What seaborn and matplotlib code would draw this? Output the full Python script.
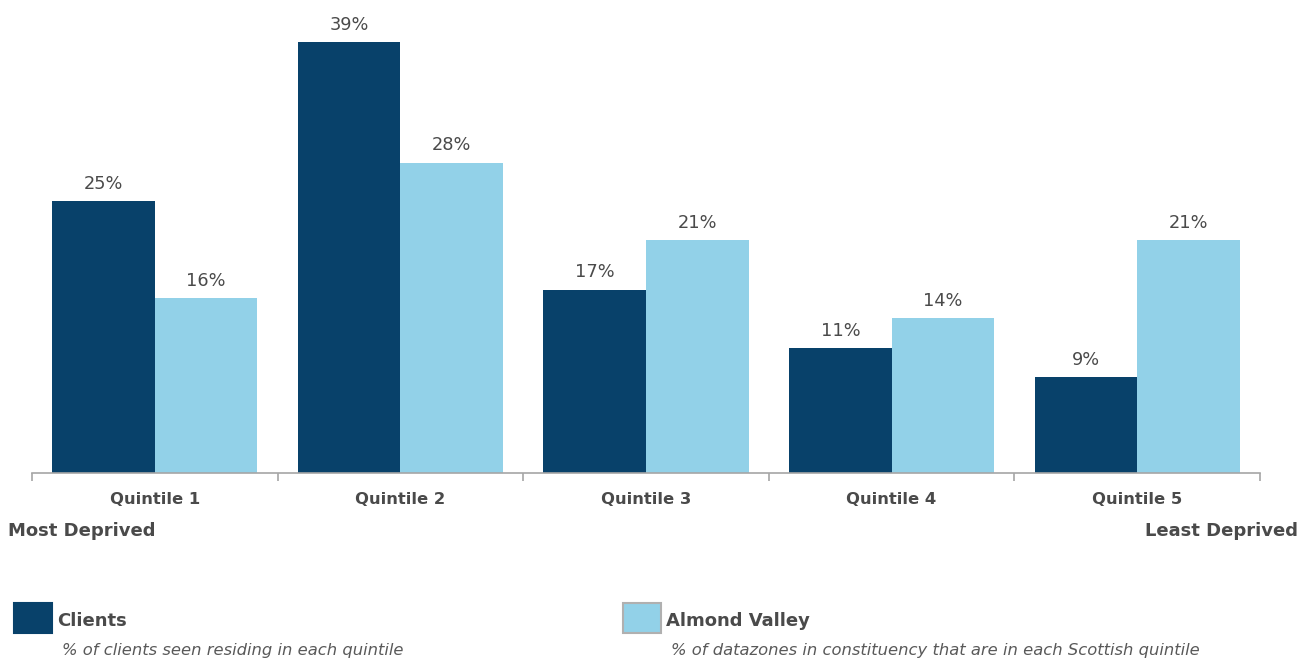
import matplotlib
matplotlib.use("Agg")
import matplotlib.pyplot as plt
import seaborn as sns
import pandas as pd
from matplotlib.patches import Rectangle

categories = ["Quintile 1", "Quintile 2", "Quintile 3", "Quintile 4", "Quintile 5"]
clients = [24.6, 39.0, 16.6, 11.3, 8.7]
almond_valley = [15.8, 28.1, 21.1, 14.0, 21.1]
series_names = ["Clients", "Almond Valley"]
series_notes = ["% of clients seen residing in each quintile",
                "% of datazones in constituency that are in each Scottish quintile"]

DARK = "#08416A"
LIGHT = "#92D1E8"
TXT = "#595959"
TXT_DARK = "#4A4A4A"

df = pd.DataFrame({
    "quintile": categories * 2,
    "value": clients + almond_valley,
    "series": [series_names[0]] * 5 + [series_names[1]] * 5,
})

sns.set_theme(style="white")
plt.rcParams["font.family"] = ["DejaVu Sans"]

W, H = 1312, 662
fig = plt.figure(figsize=(W / 100, H / 100), dpi=100)
left, right, base, top = 32, 1260, 473, 9
ax = fig.add_axes([left / W, (H - base) / H, (right - left) / W, (base - top) / H])

sns.barplot(data=df, x="quintile", y="value", hue="series",
            palette=[DARK, LIGHT], saturation=1, width=0.835,
            legend=False, ax=ax, linewidth=0)

for cont in ax.containers:
    ax.bar_label(cont, labels=[f"{v:.0f}%" for v in cont.datavalues],
                 padding=6, fontsize=12.8, color=TXT_DARK)

ax.set_ylim(0, 42)
ax.set_xlim(-0.5, 4.5)
ax.set_yticks([])
ax.set_xlabel("")
ax.set_ylabel("")
for s in ["top", "left", "right"]:
    ax.spines[s].set_visible(False)
ax.spines["bottom"].set_color("#A6A6A6")
ax.spines["bottom"].set_linewidth(1.2)

ax.set_xticks(range(5))
ax.set_xticklabels(categories, fontsize=11.8, fontweight="bold", color=TXT_DARK)
ax.tick_params(axis="x", which="major", length=0, pad=14)
ax.set_xticks([i - 0.5 for i in range(6)], minor=True)
ax.tick_params(axis="x", which="minor", length=6, color="#A6A6A6", width=1.2, bottom=True)

fig.text(8 / W, 1 - 531 / H, "Most Deprived", fontsize=13, fontweight="bold",
         color=TXT_DARK, ha="left", va="center")
fig.text(1298 / W, 1 - 531 / H, "Least Deprived", fontsize=13, fontweight="bold",
         color=TXT_DARK, ha="right", va="center")

# legend
legend_items = [(14, DARK, None), (623, LIGHT, "#B0B0B0")]
for (x0, col, ec), name, note in zip(legend_items, series_names, series_notes):
    fig.add_artist(Rectangle((x0 / W, 1 - 633 / H), 38 / W, 30 / H,
                             transform=fig.transFigure, facecolor=col,
                             edgecolor=ec if ec else col, linewidth=1.5))
    fig.text((x0 + 43) / W, 1 - 621 / H, name, fontsize=13, fontweight="bold",
             color=TXT_DARK, ha="left", va="center")
    fig.text((x0 + 48) / W, 1 - 651 / H, note, fontsize=11.8, fontstyle="italic",
             color=TXT, ha="left", va="center")

fig.savefig("out.png", dpi=100)
